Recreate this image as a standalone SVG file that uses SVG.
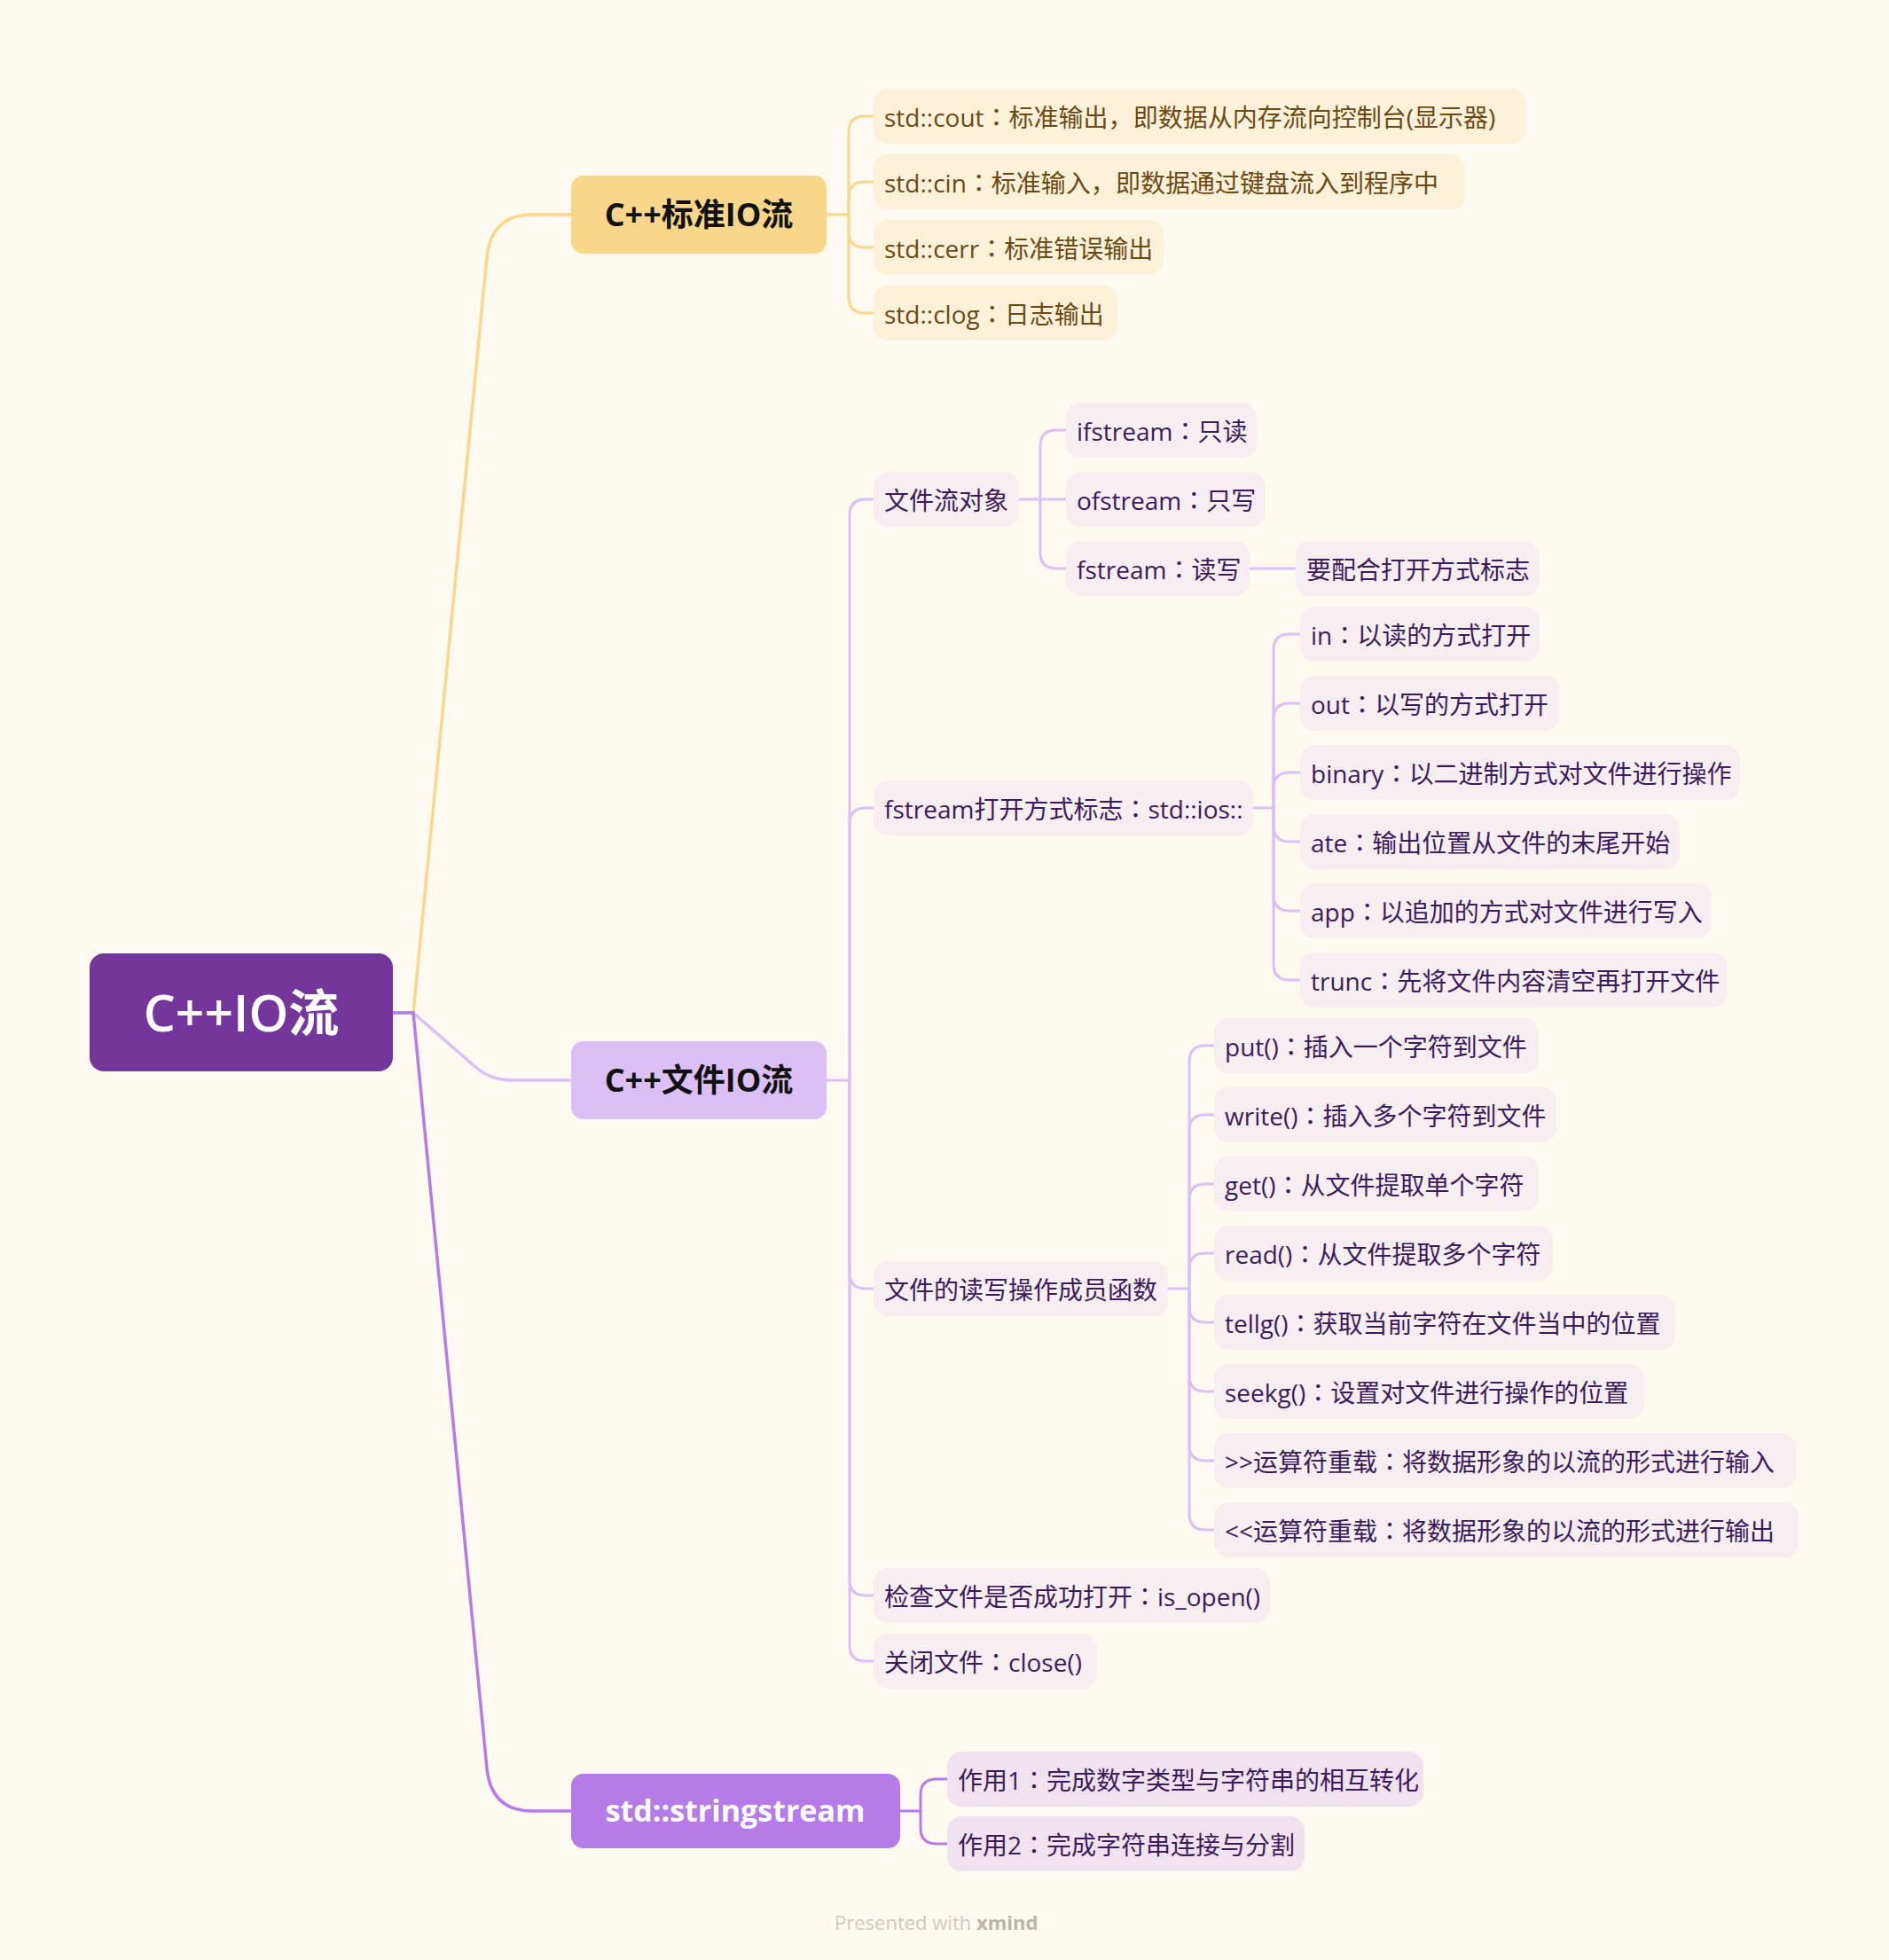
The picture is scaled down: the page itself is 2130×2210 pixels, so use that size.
<svg xmlns="http://www.w3.org/2000/svg" width="2130" height="2210" viewBox="0 0 2130 2210">
<style>
text{font-family:"Open Sans","Noto Sans CJK SC",sans-serif}
.k{font-family:"Noto Sans CJK JP","Noto Sans CJK SC",sans-serif}
.t{font-size:28px}
.ty{fill:#6b4a12}
.tp{fill:#3d1a5b}
.by{fill:#fdf1da}
.bp{fill:#f6eef1}
.bs{fill:#f0e2ee}
.c{fill:none;stroke-width:3;stroke-linecap:round;stroke-linejoin:round}
.cy{stroke:#fbd68e}
.cp{stroke:#dcbff5}
.cs{stroke:#b57be6}
.main{fill:none;stroke-width:3.5}
.mt{font-size:36px;font-weight:bold;text-anchor:middle}
</style>
<rect width="2130" height="2210" fill="#fffaef"/>
<g id="connectors">
<path class="main cy" d="M443,1142 H466 L549,290 Q554,242 600,242 H646"/>
<path class="main cp" d="M443,1142 H466 L536,1203 Q553,1218 578,1218 H646"/>
<path class="main cs" d="M443,1142 H466 L549,1994 Q554,2042 600,2042 H646"/>
<g class="c cy">
<path d="M930,242 H957 V149 Q957,131 975,131 H990"/>
<path d="M957,242 V223 Q957,205 975,205 H990"/>
<path d="M957,242 V261 Q957,279 975,279 H990"/>
<path d="M957,242 V335 Q957,353 975,353 H990"/>
</g>
<g class="c cp">
<path d="M930,1218 H958 V581 Q958,563 976,563 H990"/>
<path d="M958,1218 V929 Q958,911 976,911 H990"/>
<path d="M958,1218 V1435 Q958,1453 976,1453 H990"/>
<path d="M958,1218 V1781 Q958,1799 976,1799 H990"/>
<path d="M958,1218 V1855 Q958,1873 976,1873 H990"/>
<path d="M1147,563 H1173 V503 Q1173,485 1191,485 H1206"/>
<path d="M1173,563 H1206"/>
<path d="M1173,563 V623 Q1173,641 1191,641 H1206"/>
<path d="M1407,641 H1465"/>
<path d="M1411,911 H1436 V733 Q1436,715 1454,715 H1470"/>
<path d="M1436,911 V811 Q1436,793 1454,793 H1470"/>
<path d="M1436,911 V889 Q1436,871 1454,871 H1470"/>
<path d="M1436,911 V931 Q1436,949 1454,949 H1470"/>
<path d="M1436,911 V1009 Q1436,1027 1454,1027 H1470"/>
<path d="M1436,911 V1087 Q1436,1105 1454,1105 H1470"/>
<path d="M1315,1453 H1341 V1197 Q1341,1179 1359,1179 H1373"/>
<path d="M1341,1453 V1275 Q1341,1257 1359,1257 H1373"/>
<path d="M1341,1453 V1353 Q1341,1335 1359,1335 H1373"/>
<path d="M1341,1453 V1431 Q1341,1413 1359,1413 H1373"/>
<path d="M1341,1453 V1473 Q1341,1491 1359,1491 H1373"/>
<path d="M1341,1453 V1551 Q1341,1569 1359,1569 H1373"/>
<path d="M1341,1453 V1629 Q1341,1647 1359,1647 H1373"/>
<path d="M1341,1453 V1707 Q1341,1725 1359,1725 H1373"/>
</g>
<g class="c cs">
<path d="M1012,2042 H1038 V2024 Q1038,2006 1056,2006 H1072"/>
<path d="M1038,2042 V2061 Q1038,2079 1056,2079 H1072"/>
</g>
</g>

<g id="root">
<rect x="101" y="1075" width="342" height="133" rx="16" fill="#74369b"/>
<text x="272" y="1163" font-size="57" font-weight="600" fill="#ffffff" text-anchor="middle">C++IO流</text>
</g>

<g id="std-io">
<rect x="644" y="198" width="288" height="88" rx="14" fill="#fad68b"/>
<text class="mt" x="788" y="255" fill="#111">C++标准IO流</text>
</g>
<g id="file-io">
<rect x="644" y="1174" width="288" height="88" rx="14" fill="#dcbff5"/>
<text class="mt" x="788" y="1231" fill="#111">C++文件IO流</text>
</g>
<g id="stringstream">
<rect x="644" y="2000" width="371" height="84" rx="14" fill="#b57be6"/>
<text class="mt" x="829" y="2054" fill="#ffffff" style="font-size:34px">std::stringstream</text>
</g>

<g id="cout"><rect class="by" x="985" y="100" width="735" height="62" rx="16"/><text class="t ty" x="997" y="143">std::cout<tspan class="k">：</tspan>标准输出<tspan class="k">，</tspan>即数据从内存流向控制台(显示器)</text></g>
<g id="cin"><rect class="by" x="985" y="174" width="667" height="62" rx="16"/><text class="t ty" x="997" y="217">std::cin<tspan class="k">：</tspan>标准输入<tspan class="k">，</tspan>即数据通过键盘流入到程序中</text></g>
<g id="cerr"><rect class="by" x="985" y="248" width="327" height="62" rx="16"/><text class="t ty" x="997" y="291">std::cerr<tspan class="k">：</tspan>标准错误输出</text></g>
<g id="clog"><rect class="by" x="985" y="322" width="275" height="62" rx="16"/><text class="t ty" x="997" y="365">std::clog<tspan class="k">：</tspan>日志输出</text></g>

<g id="file-objects"><rect class="bp" x="985" y="532" width="164" height="62" rx="16"/><text class="t tp" x="997" y="575">文件流对象</text></g>
<g id="ifstream"><rect class="bp" x="1202" y="454" width="215" height="62" rx="16"/><text class="t tp" x="1214" y="497">ifstream<tspan class="k">：</tspan>只读</text></g>
<g id="ofstream"><rect class="bp" x="1202" y="532" width="225" height="62" rx="16"/><text class="t tp" x="1214" y="575">ofstream<tspan class="k">：</tspan>只写</text></g>
<g id="fstream"><rect class="bp" x="1202" y="610" width="207" height="62" rx="16"/><text class="t tp" x="1214" y="653">fstream<tspan class="k">：</tspan>读写</text></g>
<g id="need-flags"><rect class="bp" x="1461" y="610" width="275" height="62" rx="16"/><text class="t tp" x="1473" y="653">要配合打开方式标志</text></g>

<g id="open-flags"><rect class="bp" x="985" y="880" width="428" height="62" rx="16"/><text class="t tp" x="997" y="923">fstream打开方式标志<tspan class="k">：</tspan>std::ios::</text></g>
<g id="flag-in"><rect class="bp" x="1466" y="684" width="270" height="62" rx="16"/><text class="t tp" x="1478" y="727">in<tspan class="k">：</tspan>以读的方式打开</text></g>
<g id="flag-out"><rect class="bp" x="1466" y="762" width="292" height="62" rx="16"/><text class="t tp" x="1478" y="805">out<tspan class="k">：</tspan>以写的方式打开</text></g>
<g id="flag-binary"><rect class="bp" x="1466" y="840" width="496" height="62" rx="16"/><text class="t tp" x="1478" y="883">binary<tspan class="k">：</tspan>以二进制方式对文件进行操作</text></g>
<g id="flag-ate"><rect class="bp" x="1466" y="918" width="428" height="62" rx="16"/><text class="t tp" x="1478" y="961">ate<tspan class="k">：</tspan>输出位置从文件的末尾开始</text></g>
<g id="flag-app"><rect class="bp" x="1466" y="996" width="464" height="62" rx="16"/><text class="t tp" x="1478" y="1039">app<tspan class="k">：</tspan>以追加的方式对文件进行写入</text></g>
<g id="flag-trunc"><rect class="bp" x="1466" y="1074" width="482" height="62" rx="16"/><text class="t tp" x="1478" y="1117">trunc<tspan class="k">：</tspan>先将文件内容清空再打开文件</text></g>

<g id="rw-funcs"><rect class="bp" x="985" y="1422" width="332" height="62" rx="16"/><text class="t tp" x="997" y="1465">文件的读写操作成员函数</text></g>
<g id="put"><rect class="bp" x="1369" y="1148" width="366" height="62" rx="16"/><text class="t tp" x="1381" y="1191">put()<tspan class="k">：</tspan>插入一个字符到文件</text></g>
<g id="write"><rect class="bp" x="1369" y="1226" width="386" height="62" rx="16"/><text class="t tp" x="1381" y="1269">write()<tspan class="k">：</tspan>插入多个字符到文件</text></g>
<g id="get"><rect class="bp" x="1369" y="1304" width="366" height="62" rx="16"/><text class="t tp" x="1381" y="1347">get()<tspan class="k">：</tspan>从文件提取单个字符</text></g>
<g id="read"><rect class="bp" x="1369" y="1382" width="382" height="62" rx="16"/><text class="t tp" x="1381" y="1425">read()<tspan class="k">：</tspan>从文件提取多个字符</text></g>
<g id="tellg"><rect class="bp" x="1369" y="1460" width="520" height="62" rx="16"/><text class="t tp" x="1381" y="1503">tellg()<tspan class="k">：</tspan>获取当前字符在文件当中的位置</text></g>
<g id="seekg"><rect class="bp" x="1369" y="1538" width="485" height="62" rx="16"/><text class="t tp" x="1381" y="1581">seekg()<tspan class="k">：</tspan>设置对文件进行操作的位置</text></g>
<g id="op-in"><rect class="bp" x="1369" y="1616" width="656" height="62" rx="16"/><text class="t tp" x="1381" y="1659">&gt;&gt;运算符重载<tspan class="k">：</tspan>将数据形象的以流的形式进行输入</text></g>
<g id="op-out"><rect class="bp" x="1369" y="1694" width="659" height="62" rx="16"/><text class="t tp" x="1381" y="1737">&lt;&lt;运算符重载<tspan class="k">：</tspan>将数据形象的以流的形式进行输出</text></g>

<g id="is-open"><rect class="bp" x="985" y="1768" width="447" height="62" rx="16"/><text class="t tp" x="997" y="1811">检查文件是否成功打开<tspan class="k">：</tspan>is_open()</text></g>
<g id="close"><rect class="bp" x="985" y="1842" width="252" height="62" rx="16"/><text class="t tp" x="997" y="1885">关闭文件<tspan class="k">：</tspan>close()</text></g>

<g id="use1"><rect class="bs" x="1068" y="1975" width="537" height="62" rx="16"/><text class="t tp" x="1080" y="2018">作用1<tspan class="k">：</tspan>完成数字类型与字符串的相互转化</text></g>
<g id="use2"><rect class="bs" x="1068" y="2048" width="403" height="62" rx="16"/><text class="t tp" x="1080" y="2091">作用2<tspan class="k">：</tspan>完成字符串连接与分割</text></g>

<text x="941" y="2176" font-size="22" fill="#cdcac2">Presented with <tspan font-weight="bold" fill="#b8b5ad">xmind</tspan></text>
</svg>
